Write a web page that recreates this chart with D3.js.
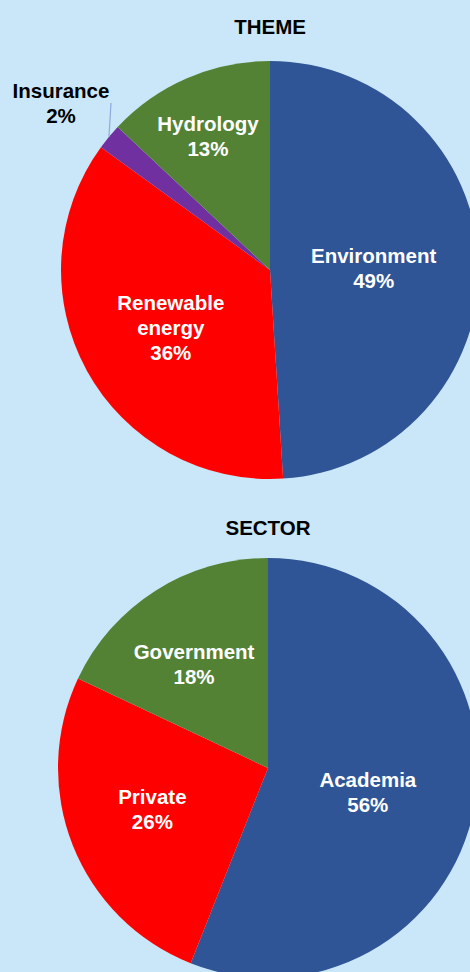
<!DOCTYPE html>
<html>
<head>
<meta charset="utf-8">
<script src="https://cdn.jsdelivr.net/npm/d3@7"></script>
<style>
  html, body { margin: 0; padding: 0; background: #C9E7F8; overflow: hidden; }
  svg { display: block; font-family: "Liberation Sans", Arial, sans-serif; font-weight: bold; }
</style>
</head>
<body>
<svg id="chart" width="470" height="972"></svg>
<script>
// Theme breakdown (percent)
const themeCategories = ["Environment", "Renewable energy", "Insurance", "Hydrology"];
const themeValues = [49, 36, 2, 13];
const themeLabelLines = [["Environment"], ["Renewable", "energy"], ["Insurance"], ["Hydrology"]];

// Sector breakdown (percent)
const sectorCategories = ["Academia", "Private", "Government"];
const sectorValues = [56, 26, 18];
const sectorLabelLines = [["Academia"], ["Private"], ["Government"]];

const sliceColors = {
  "Environment": "#2F5597", "Renewable energy": "#FF0000", "Insurance": "#7030A0", "Hydrology": "#548235",
  "Academia": "#2F5597", "Private": "#FF0000", "Government": "#548235"
};

const svg = d3.select("#chart");
const fontSize = 20.5;
const lineH = 25;

function drawPie(opts) {
  const g = svg.append("g").attr("transform", `translate(${opts.cx},${opts.cy})`);
  const data = opts.categories.map((c, i) => ({ name: c, value: opts.values[i], lines: opts.lines[i], i }));
  const pie = d3.pie().value(d => d.value).sort(null);
  const arcs = pie(data);
  const arc = d3.arc().innerRadius(0).outerRadius(opts.r);

  g.selectAll("path.slice").data(arcs).join("path")
    .attr("class", "slice")
    .attr("d", arc)
    .attr("fill", d => sliceColors[d.data.name]);

  svg.append("text")
    .attr("x", opts.cx).attr("y", opts.titleY)
    .attr("text-anchor", "middle").attr("font-size", fontSize).attr("fill", "#000")
    .text(opts.title);

  arcs.forEach((a, k) => {
    const place = opts.labelPlace[k];
    const mid = (a.startAngle + a.endAngle) / 2;
    let lx, ly, color = "#fff";
    if (place === "outside") {
      const ex = Math.sin(mid) * opts.r, ey = -Math.cos(mid) * opts.r;
      lx = opts.outside.x - opts.cx; ly = opts.outside.y - opts.cy;
      g.append("line")
        .attr("x1", ex).attr("y1", ey)
        .attr("x2", opts.outside.lx - opts.cx).attr("y2", opts.outside.ly - opts.cy)
        .attr("stroke", "#8FAADC").attr("stroke-width", 1.2);
      color = "#000";
    } else {
      const rr = place.r * opts.r;
      const ang = mid + place.shift * Math.PI / 180;
      lx = Math.sin(ang) * rr; ly = -Math.cos(ang) * rr;
    }
    const lines = a.data.lines.concat([d3.format(".0f")(a.data.value) + "%"]);
    const t = g.append("text").attr("text-anchor", "middle").attr("font-size", fontSize).attr("fill", color);
    const y0 = ly - (lines.length - 1) * lineH / 2 + 7;
    lines.forEach((s, j) => {
      t.append("tspan").attr("x", lx).attr("y", y0 + j * lineH).text(s);
    });
  });
}

drawPie({
  title: "THEME", titleY: 34, cx: 270, cy: 270, r: 209,
  categories: themeCategories, values: themeValues, lines: themeLabelLines,
  labelPlace: [{ r: 0.496, shift: 1.0 }, { r: 0.551, shift: -1.7 }, "outside", { r: 0.705, shift: -1.5 }],
  outside: { x: 61, y: 103.5, lx: 111, ly: 103 }
});

drawPie({
  title: "SECTOR", titleY: 535, cx: 268, cy: 768, r: 210,
  categories: sectorCategories, values: sectorValues, lines: sectorLabelLines,
  labelPlace: [{ r: 0.489, shift: 2.8 }, { r: 0.585, shift: 1.9 }, { r: 0.605, shift: -3.2 }]
});
</script>
</body>
</html>
